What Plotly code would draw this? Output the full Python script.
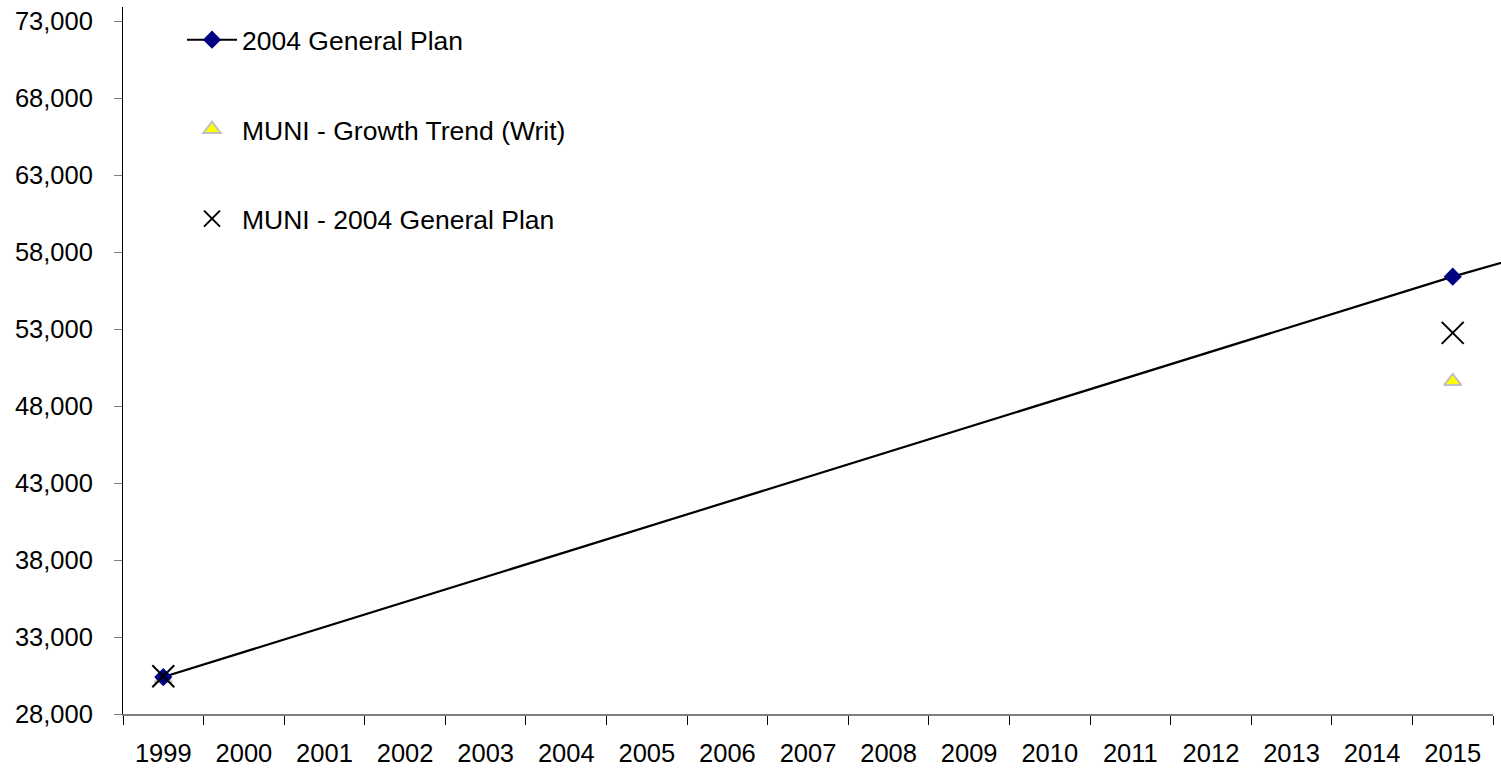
import plotly.graph_objects as go

# ---- data ----
years = list(range(1999, 2016))
year_labels = [str(y) for y in years]

gp_years = [1999, 2015, 2016]
gp_values = [30400, 56400, 57900]

growth_years = [1999, 2015]
growth_values = [30300, 49600]

muni_gp_years = [1999, 2015]
muni_gp_values = [30450, 52750]

y_ticks = list(range(28000, 73001, 5000))

# ---- layout geometry ----
W, H = 1501, 769
left_px, right_px = 123, 1493
top_px, bottom_px = 7, 714
px_per_year = (right_px - left_px) / len(years)
x_lo = years[0] - 0.5
x_hi = years[-1] + 0.5
x2_hi = x_lo + (W - left_px) / px_per_year

FONT = dict(family="Arial, Liberation Sans, sans-serif", size=25.5, color="black")
LFONT = dict(family="Arial, Liberation Sans, sans-serif", size=26.5, color="black")

fig = go.Figure()

fig.add_trace(go.Scatter(
    x=gp_years, y=gp_values, name="2004 General Plan", mode="lines+markers",
    line=dict(color="black", width=2.2),
    marker=dict(symbol="diamond", size=14, color="#000080"),
    xaxis="x2", yaxis="y", legendgroup="a"))

fig.add_trace(go.Scatter(
    x=growth_years, y=growth_values, name="MUNI - Growth Trend (Writ)", mode="markers",
    marker=dict(symbol="triangle-up", size=15, color="#ffff00",
                line=dict(color="#c0c0c0", width=2)),
    xaxis="x", yaxis="y", legendgroup="b"))

fig.add_trace(go.Scatter(
    x=muni_gp_years, y=muni_gp_values, name="MUNI - 2004 General Plan", mode="markers",
    marker=dict(symbol="x-thin", size=22, color="black",
                line=dict(color="black", width=2)),
    xaxis="x2", yaxis="y", legendgroup="c"))

boundaries = [y - 0.5 for y in years] + [years[-1] + 0.5]

fig.update_layout(
    width=W, height=H,
    margin=dict(l=0, r=0, t=0, b=0, autoexpand=False),
    paper_bgcolor="white", plot_bgcolor="rgba(0,0,0,0)",
    font=FONT,
    showlegend=True,
    legend=dict(x=182 / W, xanchor="left", y=1 - 16 / H, yanchor="top",
                bgcolor="rgba(0,0,0,0)", borderwidth=0,
                traceorder="grouped", tracegroupgap=52, itemwidth=50,
                font=LFONT),
    xaxis=dict(
        domain=[left_px / W, right_px / W],
        range=[x_lo, x_hi], automargin=False,
        tickmode="array", tickvals=years, ticktext=year_labels,
        ticks="", ticklabelstandoff=15,
        showline=True, linecolor="#808080", linewidth=2,
        showgrid=False, zeroline=False, anchor="y",
        minor=dict(tickmode="array", tickvals=boundaries, ticks="outside",
                   ticklen=9, tickcolor="black", tickwidth=1, showgrid=False),
        tickfont=FONT,
    ),
    xaxis2=dict(
        domain=[left_px / W, 1.0],
        range=[x_lo, x2_hi], automargin=False,
        visible=False, anchor="y", showgrid=False, zeroline=False,
    ),
    yaxis=dict(
        domain=[1 - bottom_px / H, 1 - top_px / H],
        range=[28000, 28000 + (bottom_px - top_px) / 15.4 * 1000],
        automargin=False,
        tickmode="array", tickvals=y_ticks, tickformat=",",
        ticks="outside", ticklen=8, tickcolor="#808080", tickwidth=1,
        ticklabelstandoff=16,
        showline=True, linecolor="black", linewidth=1,
        showgrid=False, zeroline=False, anchor="x",
        tickfont=FONT,
    ),
)

fig.write_html("out.html")
